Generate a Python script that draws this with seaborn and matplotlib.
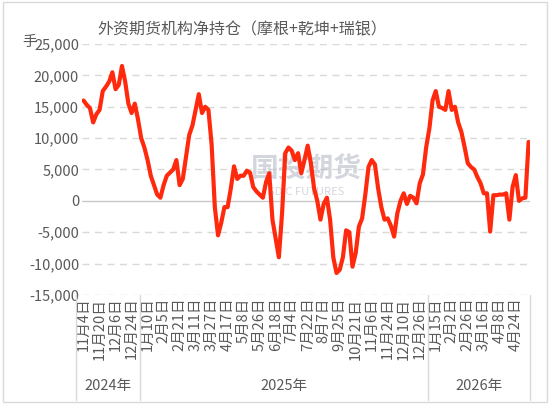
import numpy as np
import pandas as pd
import matplotlib
matplotlib.use("Agg")
import matplotlib.pyplot as plt
import seaborn as sns

# 外资期货机构净持仓, one value per ~2 trading days
values = [16000, 15300, 14800, 12500, 13800, 14500, 17500, 18200, 19000, 20500,
          17800, 18500, 21500, 19000, 15500, 14000, 15500, 13000, 10000, 8500,
          6500, 4000, 2500, 1000, 500, 2500, 4000, 4500, 5000, 6500,
          2500, 3500, 7000, 10500, 12000, 14500, 17000, 14000, 15000, 14500,
          9000, -1000, -5500, -3500, -1000, -1000, 2000, 5500, 3500, 4000,
          4000, 4800, 4500, 2200, 1500, 1000, 500, 3000, 4400, -3000,
          -6000, -9000, -2000, 7600, 8500, 8000, 6500, 7600, 4400, 6500,
          8800, 6000, 2000, 0, -3000, -500, 500, -3000, -9000, -11500,
          -11000, -9000, -4700, -5000, -10500, -8300, -4100, -2800, 1000, 5400,
          6500, 5800, 2000, -1000, -3000, -2800, -4000, -5700, -2000, 0,
          1200, -500, 800, 500, -400, 2800, 4200, 8500, 11500, 16000,
          17500, 15000, 14800, 14500, 17500, 14500, 15000, 12500, 11000, 8600,
          6000, 5400, 5000, 3800, 2800, 1200, 1200, -4900, 900, 900,
          1000, 1000, 1200, -3000, 2200, 4100, 0, 400, 500, 9400]

tick_labels = ["11月4日", "11月20日", "12月6日", "12月24日",
               "1月10日", "2月5日", "2月21日", "3月11日", "3月27日", "4月17日",
               "5月8日", "5月26日", "6月18日", "7月4日", "7月22日", "8月7日",
               "9月25日", "10月21日", "11月6日", "11月24日", "12月10日", "12月26日",
               "1月15日", "2月2日", "2月26日", "3月16日", "4月8日", "4月24日"]
years = ["2024年", "2025年", "2026年"]
year_counts = [4, 18, 6]
step = 5

df = pd.DataFrame({"i": np.arange(len(values)), "v": values})

sns.set_style("white")
plt.rcParams['font.family'] = ['Noto Sans CJK SC', 'DejaVu Sans']

fig = plt.figure(figsize=(5.5, 4.04), dpi=100)
ax = fig.add_axes([0.149, 0.27, 0.815, 0.621])

ax.text(0.5, 0.5, "国投期货", transform=ax.transAxes, fontsize=20, color="#b8bcc8",
        alpha=0.6, ha="center", va="center", fontweight="bold")
ax.text(0.5, 0.41, "SDIC FUTURES", transform=ax.transAxes, fontsize=8, color="#b8bcc8",
        alpha=0.6, ha="center", va="center")

sns.lineplot(data=df, x="i", y="v", color="#ff2a0e", linewidth=3, ax=ax, zorder=3)

ax.set_xlim(-0.5, len(values) - 0.5)
ax.set_ylim(-15000, 25000)
ax.set_yticks(range(-15000, 25001, 5000))
ax.set_yticklabels([f"{v:,}" for v in range(-15000, 25001, 5000)], fontsize=10.5, color="#595959")
for y in range(-15000, 25001, 5000):
    if y != 0:
        ax.axhline(y, color="#d9d9d9", linestyle=(0, (5, 4)), linewidth=1, zorder=1)
ax.axhline(0, color="#c8c8c8", linewidth=1, zorder=1)

ax.set_xticks(np.arange(len(tick_labels)) * step)
ax.set_xticklabels(tick_labels, rotation=90, fontsize=10.5, color="#595959")
ax.tick_params(axis="both", length=0, pad=2)
ax.set_xlabel("")
ax.set_ylabel("")
for s in ax.spines.values():
    s.set_visible(False)

# year groups under the axis
bounds = np.cumsum([0] + year_counts) * step - step / 2
bounds[-1] = len(values) - 0.5
for b in bounds:
    ax.plot([b, b], [-15000, -31800], color="#d9d9d9", linewidth=1, clip_on=False)
for k, yr in enumerate(years):
    ax.text((bounds[k] + bounds[k + 1]) / 2, -29500, yr, ha="center", va="center",
            fontsize=10.5, color="#595959", clip_on=False)

fig.text(0.44, 0.925, "外资期货机构净持仓（摩根+乾坤+瑞银）", ha="center", va="center",
         fontsize=11.5, color="#595959")
fig.text(0.04, 0.897, "手", ha="left", va="center", fontsize=10.5, color="#595959")

fig.patches.append(plt.Rectangle((0.005, 0.005), 0.99, 0.99, transform=fig.transFigure,
                                 fill=False, edgecolor="#d9d9d9", linewidth=1))
fig.savefig("out.png", dpi=100)
